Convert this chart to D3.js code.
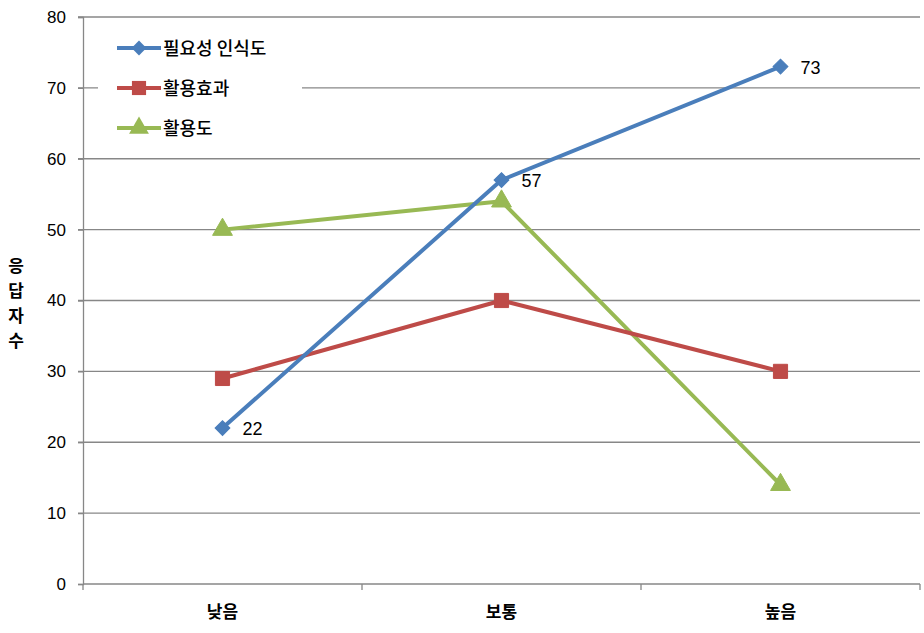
<!DOCTYPE html>
<html><head><meta charset="utf-8">
<script src="https://cdn.jsdelivr.net/npm/d3@7"></script>
<style>body{margin:0;background:#fff}svg{display:block}</style>
</head><body><svg id="c" width="924" height="633"></svg>
<script>
const categories = ["낮음", "보통", "높음"];
const seriesNames = ["필요성 인식도", "활용효과", "활용도"];
const needValues = [22, 57, 73];
const effectValues = [29, 40, 30];
const useValues = [50, 54, 14];
const yTicks = [0, 10, 20, 30, 40, 50, 60, 70, 80];
const needLabels = ["22", "57", "73"];
const yTitle = ["응", "답", "자", "수"];

const colors = ["#4a7ebb", "#be4b48", "#98b954"];
const series = [needValues, effectValues, useValues];
const shapes = [d3.symbolSquare, d3.symbolSquare, d3.symbolTriangle];
const rotations = [45, 0, 0];
const sizes = [110, 200, 170];

const svg = d3.select("#c");
const L = 83, R = 920, T = 17, B = 584;
const font = "'Liberation Sans', Arial, 'Noto Sans CJK KR', sans-serif";
const kfont = "'Noto Sans CJK KR', 'Liberation Sans', sans-serif";

const x = d3.scaleBand().domain(categories).range([L, R]).padding(0);
const y = d3.scaleLinear().domain([0, 80]).range([B, T]);
const cx = c => x(c) + x.bandwidth() / 2;

// gridlines
svg.append("g").selectAll("line").data(yTicks.filter(d => d > 0)).join("line")
  .attr("x1", L - 5).attr("x2", R).attr("y1", d => y(d)).attr("y2", d => y(d))
  .attr("stroke", "#878787").attr("stroke-width", 1.3);

// y axis
const ya = svg.append("g").attr("transform", `translate(${L},0)`)
  .call(d3.axisLeft(y).tickValues(yTicks).tickSize(5).tickPadding(12));
ya.select(".domain").attr("stroke", "#878787").attr("stroke-width", 1.3);
ya.selectAll(".tick line").attr("stroke", "#878787").attr("stroke-width", 1.3);
ya.selectAll("text").attr("font-family", font).attr("font-size", 17).attr("fill", "#000");

// x axis
const xa = svg.append("g").attr("transform", `translate(0,${B})`)
  .call(d3.axisBottom(x).tickSize(0).tickPadding(22));
xa.select(".domain").attr("stroke", "#878787").attr("stroke-width", 1.3).attr("d", `M${L},0H${R}`);
xa.selectAll("text").attr("font-family", kfont).attr("font-size", 17).attr("font-weight", "bold").attr("fill", "#000");
const bounds = [L].concat(categories.map(c => x(c) + x.bandwidth()));
svg.append("g").selectAll("line").data(bounds).join("line")
  .attr("x1", d => d).attr("x2", d => d).attr("y1", B).attr("y2", B + 6)
  .attr("stroke", "#878787").attr("stroke-width", 1.3);

// y title
svg.append("g").selectAll("text").data(yTitle).join("text")
  .attr("x", 16).attr("y", (d, i) => 272 + i * 25)
  .attr("text-anchor", "middle").attr("font-family", kfont)
  .attr("font-size", 17).attr("font-weight", "bold").text(d => d);

// lines
const line = d3.line().x((d, i) => cx(categories[i])).y(d => y(d));
const order = [2, 1, 0];
order.forEach(k => {
  svg.append("path").datum(series[k]).attr("d", line)
    .attr("fill", "none").attr("stroke", colors[k]).attr("stroke-width", 4)
    .attr("stroke-linejoin", "round");
});
order.forEach(k => {
  svg.append("g").selectAll("path").data(series[k]).join("path")
    .attr("transform", (d, i) => `translate(${cx(categories[i])},${y(d)}) rotate(${rotations[k]})`)
    .attr("d", d3.symbol().type(shapes[k]).size(sizes[k]))
    .attr("fill", colors[k]).attr("stroke", colors[k]).attr("stroke-width", 1);
});

// data labels
svg.append("g").selectAll("text").data(needValues).join("text")
  .attr("x", (d, i) => cx(categories[i]) + 20).attr("y", d => y(d) + 7)
  .attr("font-family", font).attr("font-size", 18).attr("fill", "#000")
  .text((d, i) => needLabels[i]);

// legend
svg.append("rect").attr("x", 98).attr("y", 26).attr("width", 204).attr("height", 118).attr("fill", "#fff");
const lg = svg.append("g").selectAll("g").data(seriesNames).join("g")
  .attr("transform", (d, i) => `translate(0,${48 + i * 40})`);
lg.append("line").attr("x1", 117).attr("x2", 161).attr("y1", 0).attr("y2", 0)
  .attr("stroke", (d, i) => colors[i]).attr("stroke-width", 4);
lg.append("path").attr("transform", (d, i) => `translate(139,0) rotate(${rotations[i]})`)
  .attr("d", (d, i) => d3.symbol().type(shapes[i]).size(sizes[i])())
  .attr("fill", (d, i) => colors[i]);
lg.append("text").attr("x", 163).attr("y", 7).attr("font-family", kfont)
  .attr("font-size", 18).attr("font-weight", 500).attr("fill", "#000").text(d => d);
</script></body></html>
